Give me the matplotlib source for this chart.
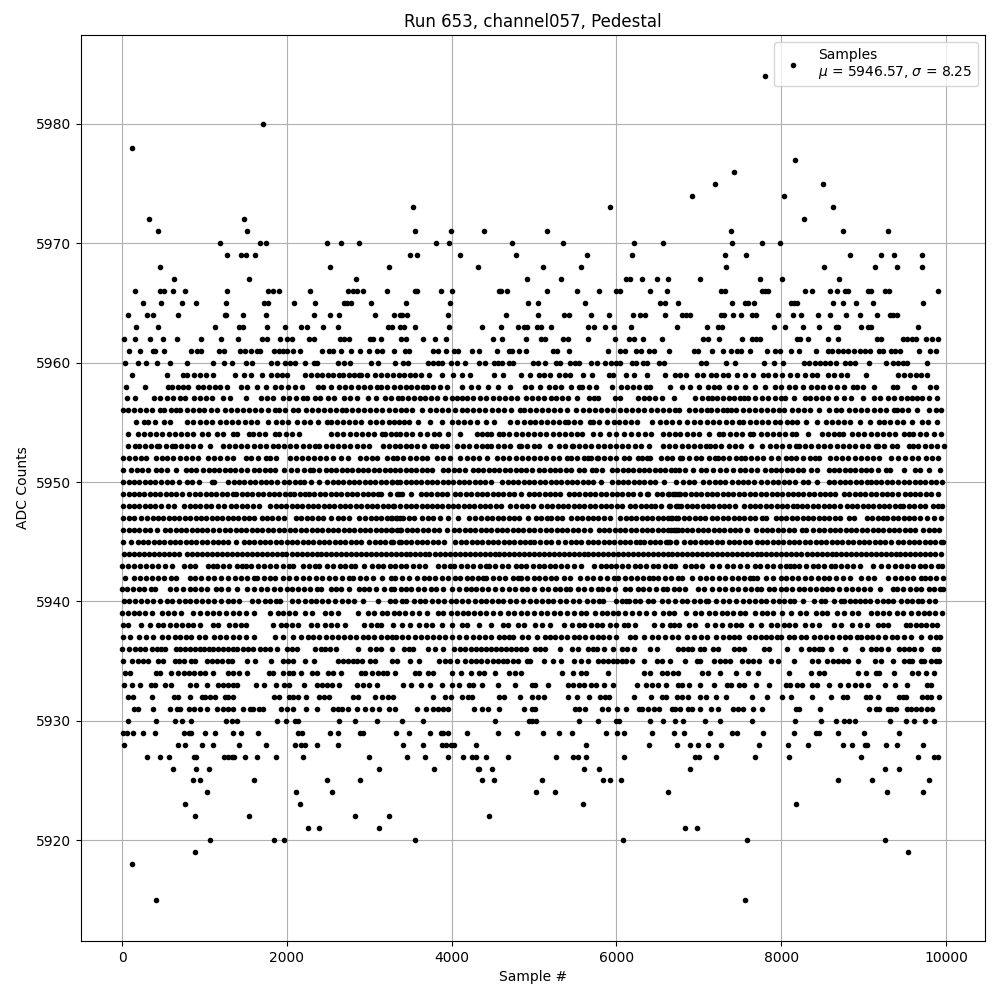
#!/usr/bin/env python3
"""Pedestal scatter, run 653 channel057. Sample numbers read off the picture, one list per ADC level."""
import matplotlib
matplotlib.use('Agg')

import matplotlib.pyplot as plt

s5984 = [7800]
s5980 = [1714]
s5978 = [117]
s5977 = [8172]
s5976 = [7428]
s5975 = [7200, 8508]
s5974 = [6912, 8028]
s5973 = [3529, 5916, 8628]
s5972 = [323, 1484, 8280]
s5971 = [432, 1520, 3553, 3989, 4388, 5160, 7392, 8748, 9300]
s5970 = [1194, 1678, 1750, 2488, 2658, 2876, 3807, 3964, 4727, 5352, 6216, 6564, 7404, 7764, 7980]
s5969 = [1278, 1448, 1508, 1617, 3492, 3577, 4097, 4775, 5640, 6192, 7320, 7572, 8832, 9216, 9372, 9708]
s5968 = [456, 2525, 3238, 4315, 5112, 5568, 7332, 8520, 9132, 9408, 9708]
s5967 = [625, 1545, 2839, 4920, 5328, 6120, 6168, 6312, 6492, 6624, 7008, 7740, 8004, 8700]
s5966 = [153, 456, 504, 613, 758, 1278, 1775, 1835, 1908, 2283, 2742, 2803, 2851, 2924, 3214, 3549, 3577, 3868,
         4001, 4569, 4602, 4666, 5160, 5520, 5784, 6000, 6048, 6408, 6612, 7272, 7320, 7764, 7800, 7836, 8292,
         8376, 8592, 8676, 8772, 8808, 9048, 9084, 9264, 9312, 9900]
s5965 = [250, 468, 722, 891, 1266, 1726, 1775, 2089, 2343, 2694, 2730, 2779, 3021, 3444, 3977, 4928, 5052, 5616,
         6528, 6588, 6744, 7404, 7560, 7596, 7668, 8124, 8160, 8196, 8628, 8748, 8904, 9108, 9720]
s5964 = [69, 298, 371, 674, 1254, 1266, 1472, 1750, 2331, 2525, 2634, 3069, 3299, 3368, 3392, 3456, 3952, 4654,
         5052, 5364, 5424, 5688, 5904, 6204, 6288, 6348, 6588, 6792, 6840, 6888, 7272, 7308, 7416, 7512, 7644,
         7692, 7956, 8148, 8244, 8448, 8592, 8784, 8952, 9156, 9324, 9360, 9408]
s5963 = [165, 432, 1133, 1424, 1472, 1762, 1980, 2174, 2246, 2440, 2622, 3226, 3275, 3368, 3416, 3553, 3964, 4364,
         4594, 4799, 4872, 4920, 5040, 5088, 5208, 5652, 5724, 5856, 5964, 6180, 6732, 7104, 7236, 7284, 7908,
         8040, 8268, 8460, 8664, 8688, 8964, 9048, 9084, 9660]
s5962 = [20, 153, 335, 492, 661, 952, 1206, 1412, 1702, 1762, 1920, 2004, 2065, 2270, 2331, 2646, 2694, 2754, 3009,
         3045, 3142, 3384, 3444, 3650, 3795, 3928, 4497, 4606, 4896, 5088, 5136, 5352, 5412, 5660, 5988, 6156,
         6216, 6324, 6552, 7056, 7116, 7248, 7524, 7644, 7692, 7740, 8196, 8232, 8328, 8568, 8688, 9168, 9216,
         9480, 9532, 9592, 9640, 9760, 9828, 9900]
s5961 = [81, 214, 371, 395, 504, 831, 915, 952, 1182, 1242, 1436, 1496, 1569, 1641, 1678, 1847, 1908, 1956, 2004,
         2077, 2162, 2428, 2513, 2561, 2658, 2779, 2888, 2996, 3093, 3154, 3299, 3432, 3480, 3771, 3831, 3928,
         4025, 4073, 4243, 4327, 4545, 4690, 4727, 4823, 4896, 5232, 5280, 5424, 5892, 6048, 6108, 6240, 6300,
         6396, 6456, 6636, 6936, 6984, 7164, 7296, 7392, 7464, 7512, 7620, 7824, 7920, 7980, 8124, 8220, 8424,
         8568, 8616, 8688, 8752, 8808, 8880, 8952, 9012, 9072, 9192, 9240, 9332, 9384, 9444, 9672, 9804, 9876]
s5960 = [32, 190, 286, 419, 577, 782, 1109, 1242, 1339, 1508, 1581, 1811, 1883, 1980, 2037, 2101, 2222, 2331, 2367,
         2622, 2694, 2767, 3021, 3105, 3311, 3408, 3468, 3710, 3771, 3831, 3880, 3989, 4061, 4158, 4327, 4400,
         4509, 4557, 4606, 4690, 4739, 4992, 5052, 5132, 5264, 5312, 5440, 5492, 5544, 5688, 5760, 5864, 5932,
         6000, 6048, 6192, 6232, 6324, 6372, 6512, 6572, 7032, 7092, 7332, 7440, 7788, 7908, 8016, 8272, 8332,
         8412, 8472, 8532, 8592, 8664, 8772, 8832, 8892, 9060, 9276, 9352, 9412, 9472, 9532, 9764]
s5959 = [121, 543, 735, 790, 870, 945, 1020, 1105, 1365, 1478, 1559, 1701, 1810, 1880, 1945, 2000, 2215, 2290, 2362,
         2430, 2498, 2560, 2628, 2680, 2750, 2810, 2870, 2905, 2970, 3065, 3140, 3210, 3285, 3355, 3420, 3490,
         3560, 3630, 3722, 3883, 4012, 4120, 4228, 4509, 4618, 4840, 4948, 5056, 5118, 5190, 5298, 5372, 5440,
         5588, 5709, 5915, 5955, 6120, 6207, 6376, 6590, 6715, 6775, 6849, 6978, 7050, 7145, 7212, 7293, 7354,
         7467, 7556, 7661, 7778, 7845, 7920, 8012, 8108, 8188, 8290, 8370, 8438, 8565, 8640, 8720, 8800, 9030,
         9420, 9490, 9560, 9630, 9700, 9772]
s5958 = [49, 275, 553, 610, 674, 735, 800, 925, 980, 1050, 1125, 1190, 1276, 1445, 1512, 1640, 1748, 1857, 1930, 2010,
         2100, 2187, 2375, 2444, 2531, 2638, 2707, 2780, 2860, 2930, 3003, 3092, 3145, 3220, 3300, 3375, 3440, 3510,
         3580, 3650, 3703, 3770, 3857, 3944, 4127, 4236, 4320, 4438, 4558, 4703, 4887, 4960, 5077, 5182, 5259, 5325,
         5452, 5541, 5586, 5662, 5749, 5951, 6058, 6130, 6200, 6270, 6361, 6410, 6652, 6796, 6889, 6996, 7105, 7178,
         7250, 7368, 7455, 7556, 7677, 7798, 7925, 8000, 8090, 8170, 8260, 8358, 8430, 8505, 8590, 8680, 8762, 8867,
         8925, 8990, 9131, 9359, 9408, 9616, 9804, 9873]
s5957 = [59, 156, 391, 465, 540, 620, 700, 764, 877, 950, 1020, 1088, 1221, 1310, 1499, 1687, 1760, 1830, 1958, 2025,
         2106, 2193, 2242, 2343, 2404, 2497, 2574, 2699, 2768, 2855, 2985, 3084, 3194, 3260, 3349, 3400, 3470,
         3540, 3610, 3680, 3750, 3820, 3925, 3998, 4070, 4130, 4188, 4263, 4341, 4420, 4499, 4576, 4650, 4725, 4794,
         4907, 4980, 5050, 5120, 5200, 5270, 5340, 5410, 5521, 5662, 5723, 5778, 5977, 6046, 6260, 6330, 6400, 6471,
         6557, 6699, 6950, 7036, 7105, 7158, 7225, 7287, 7360, 7430, 7500, 7550, 7602, 7680, 7772, 7844, 7920, 7994,
         8046, 8156, 8283, 8349, 8420, 8499, 8572, 8660, 8762, 8848, 8996, 9125, 9200, 9299, 9370, 9450, 9530, 9590,
         9642, 9710, 9790, 9893]
s5956 = [5, 75, 145, 215, 290, 360, 460, 512, 590, 650, 703, 788, 860, 930, 1000, 1075, 1150, 1249, 1322, 1395, 1470,
         1540, 1610, 1690, 1770, 1857, 1909, 1980, 2080, 2134, 2234, 2305, 2380, 2450, 2520, 2600, 2667, 2719, 2790,
         2865, 2940, 3010, 3085, 3160, 3235, 3315, 3385, 3450, 3521, 3636, 3735, 3810, 3885, 3960, 4035, 4127, 4180,
         4255, 4330, 4410, 4491, 4564, 4640, 4715, 4834, 4873, 4947, 5020, 5095, 5170, 5245, 5320, 5400, 5513, 5590,
         5665, 5740, 5815, 5890, 5960, 6040, 6115, 6190, 6265, 6340, 6415, 6490, 6565, 6640, 6713, 6756, 6875, 6950,
         7025, 7100, 7146, 7218, 7287, 7340, 7388, 7455, 7541, 7610, 7680, 7750, 7825, 7900, 7970, 8034, 8127, 8200,
         8275, 8350, 8459, 8584, 8660, 8729, 8822, 8895, 8970, 9045, 9120, 9195, 9270, 9368, 9400, 9470, 9540, 9651,
         9792, 9873, 9939]
s5955 = [170, 269, 318, 405, 512, 581, 788, 857, 946, 1020, 1095, 1189, 1261, 1335, 1410, 1490, 1565, 1640, 1776,
         1869, 1938, 2011, 2120, 2213, 2282, 2375, 2485, 2537, 2610, 2680, 2755, 2830, 2905, 3011, 3084, 3160, 3235,
         3305, 3356, 3420, 3481, 3596, 3741, 3883, 3998, 4075, 4150, 4225, 4309, 4422, 4511, 4705, 4794, 4879, 4950,
         5016, 5089, 5158, 5230, 5300, 5380, 5412, 5490, 5560, 5683, 5715, 5790, 5880, 5966, 6026, 6100, 6180, 6248,
         6436, 6523, 6600, 6680, 6754, 6855, 6940, 7016, 7097, 7170, 7250, 7327, 7400, 7489, 7541, 7620, 7695, 7770,
         7845, 7920, 7990, 8065, 8135, 8188, 8297, 8430, 8539, 8612, 8690, 8760, 8835, 8956, 9076, 9186, 9250, 9325,
         9400, 9475, 9590, 9703, 9775, 9893]
s5954 = [69, 188, 265, 340, 415, 490, 565, 640, 710, 790, 865, 966, 1047, 1152, 1225, 1351, 1398, 1545, 1594, 1666,
         1740, 1857, 1909, 1985, 2060, 2141, 2537, 2610, 2685, 2760, 2835, 2910, 2985, 3060, 3153, 3185, 3260, 3330,
         3376, 3440, 3521, 3614, 3700, 3784, 3842, 3952, 4105, 4303, 4362, 4430, 4483, 4572, 4624, 4700, 4775, 4850,
         4925, 5000, 5075, 5150, 5225, 5300, 5375, 5450, 5525, 5582, 5715, 5804, 5911, 5998, 6087, 6180, 6260, 6349,
         6416, 6563, 6640, 6713, 6774, 6850, 6930, 7004, 7117, 7247, 7299, 7375, 7449, 7523, 7616, 7663, 7752, 7824,
         7900, 7975, 8050, 8125, 8176, 8323, 8497, 8572, 8640, 8701, 8747, 8862, 8935, 9010, 9085, 9160, 9235, 9310,
         9385, 9489, 9555, 9602, 9680, 9760, 9852, 9939]
s5953 = [75, 156, 208, 280, 350, 419, 451, 530, 600, 642, 715, 790, 865, 940, 1067, 1221, 1295, 1370, 1445, 1520,
         1595, 1670, 1745, 1837, 1889, 1965, 2040, 2115, 2190, 2265, 2343, 2395, 2470, 2545, 2620, 2695, 2770, 2845,
         2920, 2991, 3165, 3240, 3315, 3376, 3440, 3510, 3585, 3660, 3764, 3810, 3877, 3945, 4067, 4139, 4215, 4290,
         4362, 4430, 4483, 4560, 4635, 4710, 4814, 4846, 4920, 4995, 5057, 5190, 5299, 5372, 5461, 5473, 5545, 5620,
         5695, 5770, 5845, 5920, 5995, 6070, 6145, 6220, 6295, 6390, 6563, 6640, 6713, 6790, 6865, 6940, 7015, 7090,
         7137, 7200, 7271, 7368, 7440, 7509, 7634, 7772, 7865, 7940, 8015, 8090, 8176, 8216, 8290, 8365, 8440, 8515,
         8590, 8673, 8750, 8825, 8900, 8975, 9050, 9145, 9178, 9250, 9347, 9400, 9549, 9604, 9663, 9740, 9815, 9890,
         9974]
s5952 = [8, 85, 160, 225, 292, 410, 480, 550, 620, 700, 770, 850, 925, 1045, 1111, 1190, 1270, 1342, 1499, 1570,
         1645, 1747, 1790, 1863, 2037, 2106, 2180, 2255, 2330, 2405, 2480, 2556, 2652, 2740, 2884, 2960, 3035, 3098,
         3215, 3285, 3335, 3415, 3490, 3565, 3640, 3705, 3820, 3900, 3975, 4105, 4180, 4255, 4330, 4424, 4547, 4628,
         4700, 4775, 4850, 4925, 5000, 5075, 5150, 5225, 5300, 5400, 5448, 5525, 5600, 5652, 5686, 5765, 5776, 5850,
         5925, 6000, 6090, 6150, 6256, 6315, 6373, 6412, 6535, 6610, 6680, 6765, 6800, 6880, 6966, 7030, 7118, 7190,
         7232, 7293, 7370, 7450, 7515, 7555, 7630, 7705, 7780, 7880, 7955, 8060, 8113, 8182, 8263, 8344, 8404, 8455,
         8590, 8665, 8740, 8815, 8890, 8965, 9040, 9115, 9185, 9334, 9414, 9505, 9585, 9665, 9758, 9830, 9900]
s5951 = [8, 110, 175, 240, 320, 410, 475, 540, 650, 775, 840, 895, 985, 1050, 1115, 1180, 1245, 1310, 1375, 1440, 1515,
         1600, 1665, 1730, 1795, 1860, 1960, 2055, 2120, 2205, 2275, 2312, 2389, 2470, 2535, 2600, 2665, 2730, 2795,
         2860, 2925, 2990, 3055, 3120, 3185, 3250, 3315, 3375, 3440, 3505, 3570, 3635, 3700, 3765, 3895, 3960, 4025,
         4090, 4160, 4256, 4320, 4385, 4450, 4515, 4580, 4645, 4710, 4775, 4840, 4905, 4970, 5060, 5125, 5190, 5255,
         5320, 5385, 5450, 5545, 5608, 5700, 5755, 5830, 5944, 6010, 6075, 6140, 6200, 6270, 6335, 6400, 6465, 6530,
         6595, 6660, 6710, 6755, 6830, 6930, 7020, 7085, 7175, 7253, 7335, 7420, 7500, 7565, 7630, 7700, 7805, 7870,
         7935, 8000, 8065, 8130, 8205, 8263, 8360, 8430, 8575, 8640, 8705, 8770, 8835, 8900, 8965, 9030, 9095, 9175,
         9270, 9325, 9495, 9625, 9680, 9798, 9925]
s5950 = [15, 80, 145, 210, 275, 340, 405, 470, 540, 610, 688, 785, 850, 935, 1090, 1120, 1290, 1355, 1420, 1485, 1550,
         1615, 1680, 1745, 1810, 1885, 1960, 2030, 2095, 2160, 2212, 2288, 2390, 2490, 2555, 2620, 2685, 2750, 2815,
         2880, 2945, 3010, 3075, 3140, 3205, 3270, 3335, 3370, 3280, 3440, 3505, 3570, 3630, 3695, 3760, 3825, 3890,
         3955, 4020, 4085, 4150, 4215, 4280, 4345, 4400, 4477, 4615, 4680, 4745, 4810, 4875, 4940, 5005, 5070, 5135,
         5200, 5265, 5330, 5395, 5460, 5525, 5590, 5655, 5720, 5810, 5950, 6015, 6080, 6145, 6210, 6275, 6340, 6405,
         6470, 6580, 6719, 6810, 6875, 6940, 7045, 7125, 7190, 7255, 7320, 7400, 7470, 7535, 7600, 7665, 7760, 7832,
         7900, 7965, 8030, 8095, 8165, 8258, 8325, 8428, 8580, 8645, 8710, 8775, 8840, 8905, 8970, 9035, 9085, 9150,
         9215, 9280, 9345, 9420, 9490, 9555, 9620, 9685, 9750, 9815, 9880, 9945]
s5949 = [15, 78, 140, 205, 270, 335, 400, 465, 530, 595, 660, 725, 815, 885, 950, 1015, 1080, 1145, 1210, 1275, 1340,
         1385, 1452, 1517, 1582, 1647, 1712, 1777, 1842, 1907, 1972, 2037, 2092, 2160, 2214, 2270, 2335, 2400, 2465,
         2530, 2595, 2660, 2725, 2790, 2855, 2920, 2985, 3050, 3110, 3145, 3252, 3341, 3360, 3395, 3507, 3622, 3687,
         3752, 3817, 3882, 3947, 4037, 4107, 4172, 4237, 4302, 4367, 4432, 4497, 4562, 4627, 4692, 4757, 4845, 4935,
         5000, 5065, 5130, 5195, 5260, 5310, 5420, 5485, 5550, 5615, 5680, 5745, 5810, 5875, 5940, 6005, 6070, 6135,
         6200, 6280, 6370, 6382, 6492, 6557, 6622, 6687, 6745, 6640, 6705, 6770, 6835, 6900, 6965, 7030, 7095, 7160,
         7225, 7290, 7355, 7420, 7485, 7550, 7615, 7683, 7752, 7817, 7882, 7947, 8012, 8077, 8142, 8207, 8268, 8337,
         8402, 8467, 8532, 8597, 8652, 8762, 8827, 8892, 8957, 9022, 9087, 9152, 9217, 9282, 9347, 9412, 9500, 9558,
         9623, 9688, 9753, 9818, 9904]
s5948 = [15, 80, 145, 210, 275, 340, 405, 472, 560, 635, 755, 820, 885, 950, 1015, 1080, 1168, 1240, 1323, 1388, 1453,
         1518, 1583, 1666, 1797, 1862, 1927, 1992, 2057, 2122, 2187, 2252, 2317, 2382, 2447, 2512, 2577, 2642, 2707,
         2772, 2837, 2902, 2967, 3032, 3097, 3162, 3227, 3292, 3368, 3300, 3440, 3505, 3570, 3635, 3700, 3765, 3816,
         3885, 3950, 4015, 4080, 4145, 4210, 4275, 4340, 4405, 4470, 4535, 4600, 4705, 4780, 4855, 4920, 4985, 5080,
         5157, 5222, 5287, 5352, 5417, 5482, 5547, 5612, 5677, 5742, 5807, 5872, 5937, 6002, 6067, 6160, 6228, 6293,
         6358, 6423, 6463, 6537, 6632, 6745, 6646, 6721, 6786, 6851, 6916, 6981, 7046, 7111, 7176, 7241, 7306, 7360,
         7440, 7542, 7618, 7683, 7748, 7813, 7878, 7943, 8008, 8073, 8138, 8188, 8248, 8313, 8390, 8450, 8515, 8580,
         8645, 8713, 8802, 8855, 8923, 8988, 9053, 9118, 9183, 9248, 9313, 9378, 9443, 9481, 9549, 9614, 9679, 9743,
         9840, 9905, 9945]
s5947 = [15, 80, 145, 229, 306, 371, 436, 501, 566, 631, 696, 761, 826, 891, 956, 1021, 1086, 1151, 1216, 1281, 1346,
         1411, 1476, 1545, 1600, 1695, 1760, 1825, 1890, 1971, 2112, 2177, 2242, 2307, 2372, 2437, 2538, 2618, 2683,
         2748, 2874, 2950, 3015, 3080, 3145, 3210, 3275, 3340, 3368, 3260, 3325, 3412, 3479, 3548, 3642, 3707, 3772,
         3857, 3953, 4071, 4208, 4280, 4354, 4430, 4495, 4560, 4625, 4690, 4755, 4820, 4927, 5024, 5089, 5154, 5210,
         5279, 5344, 5453, 5521, 5586, 5651, 5716, 5781, 5846, 5917, 6046, 6111, 6176, 6241, 6306, 6371, 6436, 6501,
         6566, 6624, 6672, 6746, 6660, 6725, 6814, 6883, 6948, 7013, 7078, 7158, 7226, 7291, 7356, 7421, 7486, 7551,
         7616, 7681, 7764, 7818, 7933, 7998, 8063, 8128, 8193, 8258, 8323, 8388, 8453, 8518, 8583, 8648, 8713, 8826,
         8883, 9036, 9105, 9170, 9235, 9287, 9355, 9420, 9485, 9550, 9615, 9680, 9764, 9850, 9939]
s5946 = [15, 80, 145, 210, 275, 340, 419, 520, 585, 650, 715, 780, 845, 910, 975, 1027, 1108, 1181, 1249, 1314, 1379,
         1444, 1509, 1574, 1639, 1704, 1769, 1834, 1899, 1971, 2039, 2104, 2169, 2234, 2299, 2364, 2429, 2494, 2559,
         2624, 2689, 2754, 2819, 2884, 2949, 3014, 3079, 3144, 3209, 3274, 3339, 3368, 3259, 3390, 3455, 3520, 3585,
         3650, 3715, 3780, 3845, 3938, 4026, 4091, 4156, 4221, 4286, 4351, 4416, 4481, 4546, 4611, 4676, 4741, 4806,
         4871, 4936, 5001, 5069, 5145, 5210, 5275, 5340, 5405, 5470, 5533, 5610, 5675, 5784, 5849, 5914, 5979, 6044,
         6109, 6174, 6239, 6304, 6369, 6434, 6499, 6564, 6629, 6694, 6746, 6660, 6725, 6790, 6855, 6920, 6985, 7050,
         7115, 7180, 7239, 7307, 7372, 7437, 7502, 7590, 7699, 7764, 7824, 7893, 7958, 8023, 8088, 8153, 8249, 8303,
         8384, 8458, 8523, 8588, 8653, 8718, 8783, 8848, 8913, 8978, 9043, 9108, 9173, 9238, 9303, 9368, 9433, 9498,
         9562, 9618, 9723, 9792, 9857, 9917]
s5945 = [8, 108, 188, 253, 318, 383, 448, 513, 578, 643, 708, 773, 838, 903, 968, 1033, 1098, 1163, 1228, 1282, 1383,
         1476, 1541, 1606, 1671, 1736, 1801, 1866, 1931, 1996, 2061, 2126, 2191, 2256, 2321, 2386, 2451, 2516, 2581,
         2646, 2711, 2776, 2841, 2902, 2999, 3064, 3129, 3194, 3287, 3362, 3265, 3380, 3445, 3510, 3575, 3640, 3705,
         3770, 3837, 3911, 4046, 4111, 4176, 4241, 4306, 4371, 4436, 4501, 4566, 4631, 4696, 4761, 4826, 4891, 4956,
         5000, 5077, 5142, 5207, 5291, 5380, 5445, 5510, 5575, 5655, 5715, 5780, 5845, 5910, 5975, 6040, 6105, 6170,
         6235, 6281, 6337, 6402, 6467, 6532, 6597, 6644, 6727, 6626, 6721, 6822, 6891, 6956, 7021, 7086, 7151, 7216,
         7281, 7360, 7428, 7493, 7558, 7623, 7703, 7764, 7829, 7894, 7959, 8024, 8099, 8155, 8220, 8285, 8350, 8418,
         8483, 8548, 8613, 8678, 8743, 8808, 8873, 8938, 9003, 9068, 9133, 9198, 9263, 9328, 9420, 9481, 9546, 9611,
         9676, 9741, 9806, 9871, 9936, 9966]
s5944 = [20, 80, 140, 200, 265, 325, 385, 445, 510, 570, 630, 690, 790, 850, 910, 970, 1030, 1090, 1150, 1210, 1270,
         1330, 1395, 1455, 1515, 1575, 1635, 1695, 1755, 1815, 1875, 1935, 1995, 2060, 2125, 2180, 2245, 2300, 2360,
         2420, 2480, 2540, 2600, 2660, 2720, 2780, 2840, 2900, 2960, 3020, 3080, 3140, 3200, 3260, 3320, 3380, 3440,
         3500, 3560, 3620, 3680, 3720, 3800, 3860, 3920, 3980, 4040, 4100, 4160, 4220, 4280, 4340, 4400, 4460, 4520,
         4580, 4640, 4700, 4760, 4820, 4880, 4940, 5000, 5060, 5120, 5180, 5240, 5300, 5360, 5420, 5480, 5540, 5600,
         5660, 5720, 5780, 5840, 5900, 5960, 6020, 6080, 6140, 6200, 6260, 6320, 6380, 6440, 6500, 6560, 6620, 6680,
         6740, 6800, 6860, 6920, 6980, 7040, 7100, 7160, 7220, 7280, 7340, 7400, 7460, 7520, 7580, 7640, 7700, 7760,
         7820, 7880, 7940, 8000, 8060, 8120, 8180, 8240, 8310, 8370, 8430, 8490, 8550, 8610, 8670, 8730, 8790, 8850,
         8910, 8970, 9030, 9090, 9150, 9210, 9270, 9330, 9390, 9440, 9500, 9560, 9620, 9680, 9740, 9800, 9860, 9940]
s5943 = [0, 70, 145, 215, 290, 365, 440, 520, 600, 750, 830, 880, 1040, 1100, 1150, 1220, 1300, 1390, 1450, 1500,
         1570, 1650, 1725, 1800, 1870, 1950, 2020, 2080, 2190, 2270, 2340, 2390, 2490, 2565, 2640, 2710, 2780, 2830,
         2940, 3030, 3100, 3170, 3255, 3310, 3380, 3440, 3530, 3600, 3680, 3830, 3910, 3980, 4030, 4110, 4180, 4255,
         4340, 4420, 4450, 4520, 4610, 4680, 4780, 4840, 4900, 4990, 5060, 5115, 5190, 5260, 5330, 5400, 5480, 5570,
         5730, 5810, 5870, 5930, 6000, 6070, 6140, 6220, 6290, 6360, 6440, 6510, 6590, 6660, 6710, 6835, 6900,
         6970, 7040, 7160, 7250, 7340, 7420, 7500, 7590, 7680, 7740, 7830, 7900, 7980, 8060, 8110, 8150, 8210, 8300,
         8380, 8440, 8520, 8600, 8650, 8730, 8800, 8870, 8950, 9110, 9210, 9300, 9380, 9450, 9520, 9600, 9680, 9750,
         9820, 9900, 9950]
s5942 = [30, 150, 215, 285, 360, 435, 510, 590, 650, 830, 890, 960, 1040, 1120, 1200, 1280, 1370, 1440, 1520, 1600,
         1640, 1720, 1800, 1860, 1950, 2030, 2110, 2190, 2270, 2350, 2430, 2510, 2590, 2670, 2750, 2800, 2890, 2960,
         3040, 3150, 3260, 3310, 3400, 3480, 3580, 3660, 3720, 3800, 3880, 3950, 4040, 4100, 4180, 4250, 4320, 4380,
         4420, 4500, 4570, 4650, 4750, 4800, 4840, 4910, 5000, 5060, 5130, 5200, 5270, 5360, 5440, 5560, 5640, 5720,
         5800, 5890, 5970, 6020, 6100, 6180, 6250, 6320, 6400, 6440, 6510, 6590, 6660, 6745, 6800, 6920, 7010,
         7090, 7160, 7250, 7320, 7400, 7480, 7550, 7620, 7660, 7700, 7820, 7900, 8000, 8060, 8130, 8200, 8290, 8360,
         8440, 8520, 8580, 8660, 8750, 8830, 8970, 9050, 9120, 9300, 9380, 9450, 9530, 9600, 9700, 9750, 9810, 9880,
         9960]
s5941 = [0, 65, 130, 200, 270, 345, 405, 580, 660, 740, 820, 890, 960, 1030, 1135, 1200, 1290, 1395, 1510, 1600, 1680,
         1760, 1840, 1920, 2000, 2060, 2130, 2210, 2280, 2360, 2420, 2540, 2600, 2660, 2750, 2870, 2930, 3000, 3080,
         3180, 3260, 3300, 3380, 3440, 3510, 3590, 3670, 3750, 3810, 3900, 4000, 4090, 4170, 4230, 4290, 4370, 4440,
         4530, 4610, 4700, 4770, 4850, 4920, 5000, 5100, 5170, 5250, 5310, 5390, 5440, 5530, 5600, 5690, 5770, 5830,
         5900, 5980, 6100, 6160, 6260, 6320, 6400, 6480, 6560, 6610, 6700, 6760, 6830, 6990, 7060, 7160, 7250, 7320,
         7400, 7480, 7560, 7630, 7700, 7750, 7850, 7910, 8000, 8060, 8130, 8210, 8270, 8350, 8420, 8500, 8560, 8620,
         8700, 8780, 8860, 8930, 9000, 9080, 9200, 9360, 9400, 9480, 9560, 9640, 9700, 9790, 9850, 9930, 9960]
s5940 = [20, 80, 155, 225, 305, 380, 460, 540, 610, 685, 760, 830, 900, 970, 1045, 1120, 1200, 1280, 1350, 1420, 1580,
         1650, 1730, 1800, 1870, 1920, 2060, 2140, 2220, 2290, 2350, 2430, 2500, 2590, 2670, 2740, 2820, 2920, 3110,
         3250, 3310, 3400, 3450, 3540, 3610, 3680, 3760, 3840, 3910, 3990, 4050, 4130, 4200, 4280, 4350, 4420, 4490,
         4560, 4620, 4710, 4780, 4870, 4950, 5020, 5100, 5170, 5230, 5320, 5390, 5470, 5550, 5640, 5710, 5790, 5835,
         5995, 6070, 6110, 6150, 6220, 6290, 6380, 6440, 6550, 6630, 6710, 6790, 6860, 6940, 7010, 7090, 7110, 7210,
         7290, 7370, 7450, 7530, 7610, 7680, 7750, 7820, 7900, 7970, 8030, 8110, 8160, 8260, 8400, 8480, 8530, 8640,
         8720, 8760, 8840, 8900, 8960, 9020, 9080, 9160, 9230, 9290, 9360, 9450, 9520, 9590, 9660, 9710, 9790, 9860]
s5939 = [0, 70, 145, 200, 280, 360, 480, 560, 630, 710, 860, 950, 1030, 1100, 1180, 1260, 1340, 1420, 1500, 1600,
         1800, 1890, 1950, 2030, 2100, 2220, 2300, 2460, 2540, 2620, 2860, 2980, 3060, 3150, 3220, 3300, 3360, 3430,
         3520, 3600, 3700, 3830, 3890, 3990, 4060, 4140, 4195, 4270, 4340, 4420, 4500, 4590, 4680, 4760, 4840, 4920,
         5000, 5080, 5160, 5240, 5320, 5400, 5480, 5570, 5630, 5740, 5820, 5890, 5960, 6020, 6100, 6190, 6270, 6360,
         6460, 6560, 6640, 6700, 6840, 6950, 7030, 7120, 7200, 7280, 7340, 7420, 7500, 7560, 7680, 7770, 7830, 7900,
         8010, 8120, 8230, 8300, 8420, 8500, 8560, 8680, 8760, 8860, 8930, 9090, 9160, 9240, 9310, 9400, 9480, 9580,
         9660, 9730, 9790, 9860, 9950]
s5938 = [10, 70, 225, 340, 430, 500, 580, 660, 730, 800, 860, 940, 1100, 1160, 1300, 1370, 1440, 1500, 1830, 1930,
         1990, 2060, 2140, 2290, 2370, 2460, 2530, 2610, 2700, 2930, 3020, 3090, 3140, 3290, 3400, 3490, 3600, 3690,
         3760, 3880, 4000, 4120, 4180, 4330, 4480, 4620, 4680, 4810, 4880, 5010, 5100, 5190, 5360, 5460, 5540, 5600,
         5690, 5760, 5830, 5920, 6000, 6090, 6140, 6220, 6460, 6550, 6650, 6700, 6760, 6880, 6950, 7100, 7190, 7280,
         7380, 7450, 7510, 7630, 7750, 7870, 7950, 8030, 8100, 8170, 8290, 8370, 8460, 8640, 8730, 8860, 8960, 9040,
         9170, 9230, 9290, 9510, 9560, 9630, 9700, 9760, 9830, 9890]
s5937 = [15, 100, 210, 290, 380, 480, 560, 640, 700, 770, 840, 930, 1010, 1110, 1190, 1260, 1340, 1420, 1500, 1600,
         1850, 1955, 2080, 2170, 2260, 2320, 2390, 2470, 2550, 2620, 2690, 2760, 2840, 2920, 2980, 3060, 3140, 3220,
         3280, 3320, 3400, 3470, 3550, 3630, 3700, 3770, 3850, 3920, 4000, 4090, 4170, 4260, 4330, 4400, 4480,
         4570, 4640, 4700, 4750, 4850, 4930, 5040, 5130, 5190, 5260, 5330, 5400, 5480, 5540, 5620, 5700, 5770, 5840,
         5910, 5990, 6160, 6220, 6340, 6430, 6510, 6590, 6670, 6750, 6850, 6940, 7020, 7100,
         7210, 7290, 7360, 7430, 7490, 7610, 7680, 7750, 7820, 7880, 7950, 8000, 8100, 8160, 8240, 8300, 8400, 8470,
         8540, 8620, 8700, 8770, 8840, 8920, 8970, 9040, 9100, 9180, 9260, 9340, 9400, 9490, 9570, 9700, 9800, 9880,
         9930]
s5936 = [0, 81, 161, 222, 274, 359, 419, 468, 516, 649, 706, 766, 827, 887, 940, 996, 1049, 1109, 1169, 1230, 1290,
         1343, 1391, 1472, 1533, 1593, 1674, 1734, 1795, 1875, 1996, 2057, 2125, 2347, 2408, 2460, 2521, 2601, 2863,
         3013, 3085, 3146, 3275, 3416, 3480, 3529, 3710, 3795, 3892, 4033, 4100, 4160, 4230, 4290, 4350, 4415, 4480,
         4540, 4600, 4665, 4720, 4780, 4840, 4900, 5012, 5072, 5132, 5312, 5464, 5532, 5652, 5712, 5764, 5852, 5952,
         6072, 6132, 6212, 6412, 6492, 6752, 6812, 6872, 6912, 7012, 7060, 7172, 7232, 7432, 7492, 7544, 7792, 7852,
         8064, 8240, 8332, 8392, 8452, 8492, 8604, 8768, 8984, 9092, 9152, 9212, 9292, 9432, 9492, 9552, 9612, 9692,
         9852, 9904]
s5935 = [8, 117, 190, 250, 311, 432, 492, 637, 686, 746, 831, 879, 1036, 1097, 1157, 1218, 1290, 1339, 1512, 1617,
         1811, 1956, 2017, 2077, 2222, 2331, 2622, 2682, 2742, 2803, 2851, 2912, 3009, 3069, 3275, 3335, 3492, 3609,
         3852, 3916, 3977, 4061, 4166, 4235, 4295, 4356, 4424, 4497, 4557, 4618, 4666, 4739, 4799, 4920, 4952, 5124,
         5232, 5332, 5488, 5572, 5652, 5772, 5832, 5892, 5952, 6012, 6072, 6112, 6192, 6336, 6492, 6552, 6652, 6832,
         6972, 7012, 7184, 7252, 7312, 7372, 7528, 7592, 7656, 7728, 7872, 7960, 8152, 8376, 8448, 8560, 8624, 8692,
         8752, 8812, 8932, 9132, 9212, 9352, 9492, 9552, 9592, 9692, 9732, 9812, 9872, 9912]
s5934 = [32, 101, 407, 456, 593, 673, 746, 807, 867, 940, 1012, 1109, 1290, 1351, 1424, 1512, 1787, 1835, 1956, 2029,
         2077, 2174, 2299, 2367, 2501, 2561, 2658, 2900, 2948, 3033, 3105, 3166, 3214, 3311, 3553, 3601, 3718, 3771,
         4001, 4110, 4231, 4335, 4396, 4521, 4698, 4763, 4839, 5340, 5472, 5572, 5632, 5896, 6332, 6412, 6552, 6612,
         6692, 6752, 7040, 7116, 7260, 7452, 7596, 7716, 8100, 8364, 8452, 8524, 8928, 9024, 9144, 9192, 9372, 9592,
         9660, 9760, 9856]
s5933 = [20, 117, 214, 347, 395, 516, 589, 827, 903, 1036, 1169, 1230, 1290, 1351, 1399, 1629, 1726, 1871, 1968, 2029,
         2210, 2367, 2428, 2488, 2549, 2634, 2851, 2924, 2996, 3093, 3408, 3505, 3626, 3731, 3880, 4001, 4085, 4206,
         4255, 4364, 4557, 4763, 4976, 5012, 5172, 5412, 5472, 5544, 5612, 5692, 5752, 5852, 5952, 6252, 6360, 6432,
         6504, 6600, 6744, 6792, 6876, 7008, 7180, 7344, 7392, 7492, 7552, 7692, 7856, 8052, 8112, 8188, 8252, 8372,
         8432, 8580, 8712, 8808, 8892, 8972, 9052, 9256, 9384, 9528, 9772, 9812]
s5932 = [69, 129, 359, 625, 673, 819, 964, 1012, 1061, 1125, 1254, 1290, 1351, 1847, 1908, 2029, 2077, 2137, 2234,
         2392, 2452, 2513, 2803, 2863, 3069, 3154, 3226, 3287, 3771, 3916, 3989, 4122, 4194, 4243, 4569, 4630, 4835,
         4976, 5052, 5124, 5412, 5520, 5664, 5800, 5864, 5904, 6216, 6420, 6552, 6600, 6732, 6792, 6872, 7008, 7092,
         7212, 7332, 7644, 7832, 8004, 8124, 8372, 8604, 8752, 8800, 9024, 9080, 9180, 9424, 9472, 9512, 9712, 9772,
         9812, 9912]
s5931 = [141, 190, 371, 577, 661, 698, 807, 867, 940, 1036, 1157, 1230, 1290, 1351, 1472, 1557, 1593, 1666, 1714, 1932,
         2004, 2077, 2234, 2367, 2561, 2622, 2670, 2742, 2851, 2948, 3033, 3118, 3239, 3311, 3577, 3686, 3771, 3831,
         3892, 3952, 4267, 4364, 4436, 4569, 4872, 4976, 5008, 5492, 5544, 5616, 5820, 5892, 6012, 6120, 6272, 6312,
         6384, 6452, 6512, 6672, 6712, 6768, 6864, 6912, 7012, 7152, 7236, 7412, 7472, 7536, 7656, 7764, 8184, 8212,
         8472, 9060, 9152, 9192, 9292, 9332, 9396, 9532, 9572, 9632, 9692, 9772, 9824]
s5930 = [69, 407, 637, 722, 831, 1266, 1339, 1399, 1883, 1992, 2101, 2137, 2634, 2827, 3093, 3396, 3650, 4521, 4940,
         4976, 5024, 5544, 5772, 6000, 6036, 6408, 6564, 6708, 6804, 7080, 7260, 7644, 8172, 8484, 8664, 8760, 8820,
         8892, 9324, 9516, 9612, 9744, 9852]
s5929 = [8, 60, 133, 250, 395, 746, 807, 839, 1012, 1133, 1351, 1448, 1654, 2137, 2186, 2525, 2622, 2888, 2924, 3319,
         3480, 3735, 3868, 3892, 3952, 4182, 4557, 4787, 5112, 5304, 5460, 5868, 6012, 6096, 6432, 6696, 6816, 7140,
         7404, 7464, 7776, 8160, 8424, 8460, 8688, 9000, 9432]
s5928 = [20, 673, 758, 964, 1109, 1424, 1750, 2101, 2174, 2222, 2367, 2622, 3408, 3650, 3880, 3928, 3993, 4025, 4291,
         5628, 6396, 6732, 6888, 6984, 7116, 7272, 7728, 8076, 8328, 8748, 8856, 9012, 9036, 9276, 9408, 9720]
s5927 = [298, 456, 565, 867, 903, 1242, 1290, 1339, 1363, 1496, 1641, 1871, 2198, 2996, 3456, 3674, 3952, 4134, 4243,
         4295, 4412, 4678, 5268, 5472, 5532, 5628, 6096, 6948, 6996, 7212, 7680, 8088, 8964, 9660, 9852, 9900]
s5926 = [613, 903, 1049, 3118, 3783, 4315, 4327, 4485, 5604, 5784, 6888, 9264, 9432]
s5925 = [855, 940, 1605, 2488, 2888, 4364, 4509, 5100, 5832, 5916, 6060, 8688, 9096, 9792]
s5924 = [1036, 2113, 2549, 5028, 5256, 6624, 9288, 9720]
s5923 = [758, 2162, 5592, 8184]
s5922 = [879, 1545, 2827, 3239, 4449]
s5921 = [2258, 2392, 3118, 6828, 6972]
s5920 = [1061, 1847, 1968, 3553, 6084, 7584, 9264]
s5919 = [879, 9540]
s5918 = [117]
s5915 = [407, 7560]

levels = [5984, 5980, 5978, 5977, 5976, 5975, 5974, 5973, 5972, 5971, 5970, 5969, 5968, 5967, 5966, 5965, 5964,
          5963, 5962, 5961, 5960, 5959, 5958, 5957, 5956, 5955, 5954, 5953, 5952, 5951, 5950, 5949, 5948, 5947,
          5946, 5945, 5944, 5943, 5942, 5941, 5940, 5939, 5938, 5937, 5936, 5935, 5934, 5933, 5932, 5931, 5930,
          5929, 5928, 5927, 5926, 5925, 5924, 5923, 5922, 5921, 5920, 5919, 5918, 5915]
rows = [s5984, s5980, s5978, s5977, s5976, s5975, s5974, s5973, s5972, s5971, s5970, s5969, s5968, s5967, s5966,
        s5965, s5964, s5963, s5962, s5961, s5960, s5959, s5958, s5957, s5956, s5955, s5954, s5953, s5952, s5951,
        s5950, s5949, s5948, s5947, s5946, s5945, s5944, s5943, s5942, s5941, s5940, s5939, s5938, s5937, s5936,
        s5935, s5934, s5933, s5932, s5931, s5930, s5929, s5928, s5927, s5926, s5925, s5924, s5923, s5922, s5921,
        s5920, s5919, s5918, s5915]

def main():
    xs, ys = [], []
    for level, row in zip(levels, rows):
        xs.extend(row)
        ys.extend([level] * len(row))

    fig, ax = plt.subplots(figsize=(10, 10))
    ax.plot(xs, ys, 'k.', label='Samples\n$\\mu$ = 5946.57, $\\sigma$ = 8.25')
    ax.set_title('Run 653, channel057, Pedestal')
    ax.set_xlabel('Sample #')
    ax.set_ylabel('ADC Counts')
    ax.grid(True)
    ax.legend(loc='upper right')

    fig.subplots_adjust(left=0.081, right=0.985, top=0.965, bottom=0.059)
    fig.savefig('out.png', dpi=100)
    plt.close(fig)

if __name__ == '__main__':
    main()
